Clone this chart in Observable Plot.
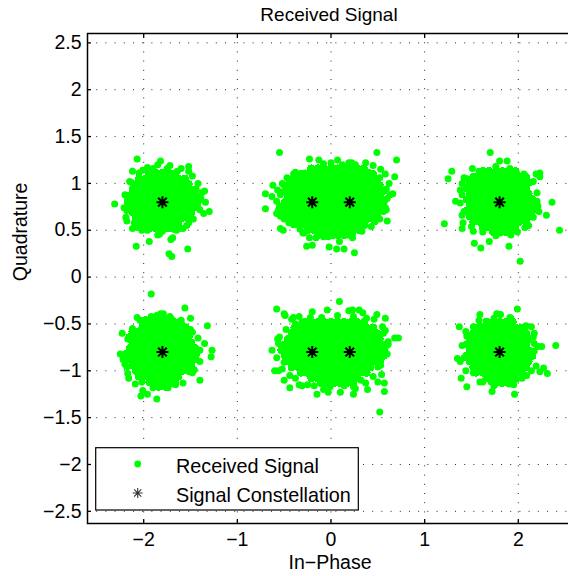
<!DOCTYPE html>
<html>
<head>
<meta charset="utf-8">
<script src="https://cdn.jsdelivr.net/npm/d3@7"></script>
<script src="https://cdn.jsdelivr.net/npm/@observablehq/plot@0.6"></script>
<style>
  html, body { margin: 0; padding: 0; overflow: hidden; background: white; }
  #chart { width: 568px; height: 576px; overflow: hidden; position: relative; }
</style>
</head>
<body>
<div id="chart"></div>
<script>
// ---- axes ----
const xTicks = [-2, -1, 0, 1, 2];
const yTicks = [-2.5, -2, -1.5, -1, -0.5, 0, 0.5, 1, 1.5, 2, 2.5];

// ---- signal constellation ----
const constX = [-1.8, -0.2, 0.2, 1.8, -1.8, -0.2, 0.2, 1.8];
const constY = [0.8, 0.8, 0.8, 0.8, -0.8, -0.8, -0.8, -0.8];

// ---- received signal: cluster reference points ----
const clusterX = [-1.8, 0, 1.8, -1.8, 0, 1.8];
const clusterY = [0.8, 0.8, 0.8, -0.8, -0.8, -0.8];

// dense (solid) part of each cloud, read as rows: [dy, [dx...]] in hundredths
const coreNW = [
  [31, [-14, -7, 0, 7, 14]],
  [25, [-25, -18, -11, -4, 3, 10, 17, 24]],
  [19, [-28, -21, -14, -7, 0, 7, 14, 21, 28]],
  [13, [-32, -25, -18, -11, -4, 3, 10, 17, 24, 31]],
  [7, [-35, -28, -21, -14, -7, 0, 7, 14, 21, 28, 35]],
  [1, [-37, -32, -25, -18, -11, -4, 3, 10, 17, 24, 31, 38]],
  [-5, [-35, -28, -21, -14, -7, 0, 7, 14, 21, 28, 35]],
  [-11, [-32, -25, -18, -11, -4, 3, 10, 17, 24, 31]],
  [-17, [-28, -21, -14, -7, 0, 7, 14, 21, 28]],
  [-23, [-25, -18, -11, -4, 3, 10, 17]],
  [-28, [-14, -7, 0, 7]]
];
const coreNM = [
  [36, [-21, -14, -7, 0, 7, 14, 21, 28, 35]],
  [30, [-32, -25, -18, -11, -4, 3, 10, 17, 24, 31, 38, 45]],
  [24, [-42, -35, -28, -21, -14, -7, 0, 7, 14, 21, 28, 35, 42, 49]],
  [18, [-46, -39, -32, -25, -18, -11, -4, 3, 10, 17, 24, 31, 38, 45, 52]],
  [12, [-49, -42, -35, -28, -21, -14, -7, 0, 7, 14, 21, 28, 35, 42, 49, 56]],
  [6, [-46, -39, -32, -25, -18, -11, -4, 3, 10, 17, 24, 31, 38, 45, 52]],
  [0, [-49, -42, -35, -28, -21, -14, -7, 0, 7, 14, 21, 28, 35, 42, 49, 56]],
  [-6, [-46, -39, -32, -25, -18, -11, -4, 3, 10, 17, 24, 31, 38, 45, 52]],
  [-12, [-49, -42, -35, -28, -21, -14, -7, 0, 7, 14, 21, 28, 35, 42, 49]],
  [-18, [-46, -39, -32, -25, -18, -11, -4, 3, 10, 17, 24, 31, 38, 45]],
  [-24, [-35, -28, -21, -14, -7, 0, 7, 14, 21, 28, 35]],
  [-30, [-25, -18, -11, -4, 3, 10, 17, 24, 31]],
  [-35, [-14, -7, 0, 7, 14, 21]]
];
const coreNE = [
  [33, [-18, -11, -4, 3, 10, 17]],
  [27, [-28, -21, -14, -7, 0, 7, 14, 21, 28]],
  [21, [-32, -25, -18, -11, -4, 3, 10, 17, 24, 31]],
  [15, [-35, -28, -21, -14, -7, 0, 7, 14, 21, 28]],
  [9, [-32, -25, -18, -11, -4, 3, 10, 17, 24, 31]],
  [3, [-35, -28, -21, -14, -7, 0, 7, 14, 21, 28, 35]],
  [-3, [-32, -25, -18, -11, -4, 3, 10, 17, 24, 31]],
  [-9, [-35, -28, -21, -14, -7, 0, 7, 14, 21, 28, 35]],
  [-15, [-32, -25, -18, -11, -4, 3, 10, 17, 24, 31]],
  [-21, [-28, -21, -14, -7, 0, 7, 14, 21, 28]],
  [-27, [-18, -11, -4, 3, 10, 17]],
  [-32, [-7, 0, 7]]
];
const coreSW = [
  [34, [-18, -11, -4, 3, 10]],
  [28, [-21, -14, -7, 0, 7, 14, 21]],
  [22, [-32, -25, -18, -11, -4, 3, 10, 17, 24]],
  [16, [-35, -28, -21, -14, -7, 0, 7, 14, 21, 28]],
  [10, [-32, -25, -18, -11, -4, 3, 10, 17, 24, 31]],
  [4, [-35, -28, -21, -14, -7, 0, 7, 14, 21, 28, 35]],
  [-2, [-39, -32, -25, -18, -11, -4, 3, 10, 17, 24, 31, 36]],
  [-8, [-35, -28, -21, -14, -7, 0, 7, 14, 21, 28, 35]],
  [-14, [-32, -25, -18, -11, -4, 3, 10, 17, 24, 31]],
  [-20, [-28, -21, -14, -7, 0, 7, 14, 21, 28]],
  [-26, [-25, -18, -11, -4, 3, 10, 17]],
  [-32, [-14, -7, 0, 7, 14]],
  [-37, [-4, 3]]
];
const coreSM = [
  [32, [-28, -21, -14, -7, 0, 7, 14, 21, 28, 35]],
  [26, [-39, -32, -25, -18, -11, -4, 3, 10, 17, 24, 31, 38, 45]],
  [20, [-42, -35, -28, -21, -14, -7, 0, 7, 14, 21, 28, 35, 42, 49]],
  [14, [-46, -39, -32, -25, -18, -11, -4, 3, 10, 17, 24, 31, 38, 45, 52]],
  [8, [-49, -42, -35, -28, -21, -14, -7, 0, 7, 14, 21, 28, 35, 42, 49, 56]],
  [2, [-53, -46, -39, -32, -25, -18, -11, -4, 3, 10, 17, 24, 31, 38, 45, 52, 57]],
  [-4, [-49, -42, -35, -28, -21, -14, -7, 0, 7, 14, 21, 28, 35, 42, 49, 56]],
  [-10, [-46, -39, -32, -25, -18, -11, -4, 3, 10, 17, 24, 31, 38, 45, 52]],
  [-16, [-42, -35, -28, -21, -14, -7, 0, 7, 14, 21, 28, 35, 42]],
  [-22, [-32, -25, -18, -11, -4, 3, 10, 17, 24, 31, 38]],
  [-28, [-21, -14, -7, 0, 7, 14, 21, 28]],
  [-33, [-11, -4, 3, 10, 17, 24]]
];
const coreSE = [
  [32, [-14, -7, 0, 7, 14]],
  [26, [-25, -18, -11, -4, 3, 10, 17, 24]],
  [20, [-28, -21, -14, -7, 0, 7, 14, 21, 28]],
  [14, [-32, -25, -18, -11, -4, 3, 10, 17, 24, 31]],
  [8, [-35, -28, -21, -14, -7, 0, 7, 14, 21, 28]],
  [2, [-32, -25, -18, -11, -4, 3, 10, 17, 24, 31]],
  [-4, [-35, -28, -21, -14, -7, 0, 7, 14, 21, 28, 35]],
  [-10, [-32, -25, -18, -11, -4, 3, 10, 17, 24, 31]],
  [-16, [-28, -21, -14, -7, 0, 7, 14, 21, 28]],
  [-22, [-25, -18, -11, -4, 3, 10, 17, 24]],
  [-28, [-14, -7, 0, 7, 14]],
  [-33, [-4, 3]]
];

// scattered points around each cloud: [dx, dy] in hundredths
const scatterNW = [[-27,46],[-32,33],[-51,-2],[-38,-9],[-32,-28],[-28,-47],[-14,-42],[-5,-35],[9,-40],[11,-38],[7,-55],[10,-58],[27,-50],[22,-28],[46,0],[50,-10],[44,-12],[45,12],[42,10],[32,28],[28,38],[28,33],[-2,44],[8,39],[-5,40],[-21,34],[-37,3],[-39,-16],[-22,-30],[38,-6],[33,-18],[15,-30],[12,-29],[-35,22],[-38,-20],[38,20],[20,36],[-16,37],[-27,-27],[26,-25],[0,-31],[5,36],
  [-40,8],[-41,-6],[-33,21],[-25,31],[-10,36],[16,33],[36,14],[41,4],[40,-8],[28,-22],[18,-28],[-3,-34],[-16,-30],[-30,-22]];
const scatterNM = [[-55,53],[49,53],[70,45],[58,30],[68,27],[62,20],[66,9],[63,8],[57,1],[58,-6],[56,-10],[50,-15],[60,-20],[47,-21],[36,-25],[33,-31],[23,-34],[23,-38],[25,-54],[14,-50],[6,-50],[9,-42],[-2,-48],[-3,-37],[-8,-37],[-20,-46],[-26,-47],[-23,-38],[-29,-33],[-33,-29],[-40,-24],[-51,-30],[-54,-28],[-54,-15],[-58,-12],[-70,-7],[-56,-8],[-52,-6],[-70,9],[-58,1],[-63,6],[-57,13],[-62,18],[-50,18],[-40,30],[-23,46],[-13,45],[0,42],[7,45],[19,42],[22,42],[37,42],[45,39],[40,32],[-28,31],[53,35],[-45,-22],[12,40],
  [-52,20],[-54,8],[-55,-4],[-50,-18],[-30,-33],[-16,-38],[2,-36],[18,-35],[43,-26],[52,-18],[59,-8],[60,4],[59,14],[52,26],[26,40],[-8,41],[-38,32],[-47,26]];
const scatterNE = [[-10,53],[0,44],[8,44],[-29,36],[-51,33],[-55,25],[-35,25],[-29,26],[-40,20],[-42,13],[-47,1],[-42,-1],[-40,-14],[-39,-22],[-59,-23],[-40,-28],[-28,-31],[-27,-44],[-20,-49],[-11,-42],[1,-33],[-6,-32],[10,-47],[12,-35],[19,-32],[22,-63],[27,-27],[31,-25],[50,-14],[42,-10],[38,-8],[56,0],[40,1],[37,-2],[43,27],[39,30],[43,31],[32,21],[22,23],[18,32],[11,36],[-17,28],[64,-30],
  [-38,26],[-40,8],[-38,-10],[-30,-26],[-18,-32],[-4,-36],[14,-30],[36,-16],[41,-4],[40,10],[36,22],[26,30],[-4,38],[-22,33]];
const scatterSW = [[-12,62],[24,47],[30,36],[48,28],[-27,37],[-6,39],[-2,41],[1,41],[5,35],[-32,25],[-43,20],[-45,-2],[-40,-13],[-37,-23],[-29,-34],[-21,-41],[-23,-47],[-16,-45],[-6,-50],[6,-38],[14,-35],[40,-30],[34,-19],[36,-4],[45,9],[53,2],[52,-5],[32,21],[25,27],[17,32],[-42,-8],[38,15],[-36,-28],[22,-33],
  [-24,34],[-37,14],[-40,-4],[-38,-16],[-22,-32],[-10,-38],[8,-34],[32,-22],[40,-10],[40,2],[30,24],[20,34],[8,38],[-12,38]];
const scatterSM = [[-58,46],[9,54],[-49,39],[-50,41],[-42,35],[-40,37],[-34,38],[-31,32],[-20,43],[-22,37],[-4,45],[7,39],[19,44],[23,45],[30,45],[34,42],[49,40],[46,35],[58,36],[55,27],[58,23],[68,15],[72,15],[61,11],[58,5],[52,-5],[50,-16],[54,-24],[50,-32],[57,-33],[57,-42],[39,-40],[37,-33],[24,-37],[26,-39],[24,-45],[10,-43],[-3,-43],[-1,-37],[-8,-40],[-15,-45],[-25,-35],[-31,-36],[-34,-35],[-44,-38],[-50,-30],[-38,-28],[-60,-20],[-56,-20],[-50,-11],[-63,2],[-56,9],[-53,6],[-57,14],[52,-64],
  [-55,16],[-58,-6],[-52,-18],[-44,-25],[-18,-36],[-2,-33],[14,-36],[32,-30],[45,-26],[53,-14],[60,-2],[61,8],[56,20],[38,36],[24,38],[-10,37],[-38,30],[-48,24]];
const scatterSE = [[19,46],[-21,40],[-3,41],[1,40],[11,37],[-43,27],[-28,27],[-21,28],[-9,27],[27,25],[34,27],[37,20],[-35,17],[-40,7],[37,9],[45,6],[60,7],[37,1],[30,-2],[32,-5],[-45,-7],[-42,-10],[39,-15],[43,-21],[47,-17],[51,-23],[29,-25],[19,-22],[18,-29],[15,-35],[16,-45],[-21,-32],[-9,-32],[-8,-42],[-35,-37],[-41,-28],[-28,-22],[4,-30],[8,-31],
  [-22,34],[-36,22],[-38,-6],[-36,-20],[-18,-32],[-6,-36],[10,-34],[24,-28],[34,-20],[41,6],[36,16],[28,28],[12,36],[-6,36]];

// ---- build tables ----
const cores = [coreNW, coreNM, coreNE, coreSW, coreSM, coreSE];
const scatters = [scatterNW, scatterNM, scatterNE, scatterSW, scatterSM, scatterSE];
const receivedCore = [];
const receivedScatter = [];
cores.forEach((core, i) => {
  for (const [dy, dxs] of core) for (const dx of dxs)
    receivedCore.push({x: clusterX[i] + dx / 100, y: clusterY[i] + dy / 100});
  for (const [dx, dy] of scatters[i])
    receivedScatter.push({x: clusterX[i] + dx / 100, y: clusterY[i] + dy / 100});
});
const constellation = constX.map((x, i) => ({x, y: constY[i]}));

// MATLAB-style '*' marker
const matlabStar = {
  draw(ctx, size) {
    const r = Math.sqrt(size / Math.PI);
    const d = r * 0.72;
    ctx.moveTo(-r, 0); ctx.lineTo(r, 0);
    ctx.moveTo(0, -r); ctx.lineTo(0, r);
    ctx.moveTo(-d, -d); ctx.lineTo(d, d);
    ctx.moveTo(-d, d); ctx.lineTo(d, -d);
  }
};

const fmt = d => (d < 0 ? "\u2212" : "") + String(Math.abs(d));
const gridStyle = {stroke: "#000", strokeOpacity: 0.85, strokeWidth: 1, strokeDasharray: "1,8.2"};

const svg = Plot.plot({
  width: 574,
  height: 576,
  marginLeft: 87,
  marginRight: 0,
  marginTop: 33,
  marginBottom: 53,
  x: {domain: [-2.6, 2.6]},
  y: {domain: [-2.63, 2.6]},
  style: {
    fontFamily: "'Liberation Sans', Arial, Helvetica, sans-serif",
    fontSize: "19.5px",
    background: "white",
    color: "black",
    maxWidth: "none",
    overflow: "hidden"
  },
  marks: [
    Plot.gridX(xTicks, gridStyle),
    Plot.gridY(yTicks, gridStyle),
    Plot.dot(receivedCore, {x: "x", y: "y", r: 4, fill: "#00ff00", shapeRendering: "crispEdges"}),
    Plot.dot(receivedScatter, {x: "x", y: "y", r: 3.5, fill: "#00ff00"}),
    Plot.dot(constellation, {x: "x", y: "y", r: 6, symbol: matlabStar, stroke: "black", strokeWidth: 2, fill: "none"}),
    Plot.frame({stroke: "black", strokeWidth: 1.5}),
    Plot.axisX({ticks: xTicks, anchor: "bottom", tickSize: -4, tickPadding: 13, tickFormat: fmt, label: null, strokeWidth: 1.3}),
    Plot.axisX({ticks: xTicks, anchor: "top", tickSize: -4, tickFormat: () => "", label: null, strokeWidth: 1.3}),
    Plot.axisY({ticks: yTicks, anchor: "left", tickSize: -4, tickPadding: 10, tickFormat: fmt, label: null, strokeWidth: 1.3}),
    Plot.text(["Received Signal"], {frameAnchor: "top", text: d => d, lineAnchor: "bottom", dy: -12.3, dx: -2, fontSize: 19}),
    Plot.text(["In\u2212Phase"], {frameAnchor: "bottom", text: d => d, lineAnchor: "bottom", dy: 45.3, dx: -1, fontSize: 19.5}),
    Plot.text(["Quadrature"], {frameAnchor: "left", text: d => d, rotate: -90, lineAnchor: "bottom", dx: -60.7, dy: 2.7, fontSize: 19.5})
  ]
});

// ---- legend ----
const g = d3.select(svg).append("g").attr("class", "legend").attr("text-anchor", "start");
g.append("rect")
  .attr("x", 95.7).attr("y", 447.7).attr("width", 262.6).attr("height", 62.3)
  .attr("fill", "white").attr("stroke", "black").attr("stroke-width", 1.2);
g.append("circle").attr("cx", 137.7).attr("cy", 464).attr("r", 3.4).attr("fill", "#00ff00");
const sr = 5, sd = 3.6;
g.append("path")
  .attr("d", `M${137.7 - sr},493H${137.7 + sr}M137.7,${493 - sr}V${493 + sr}M${137.7 - sd},${493 - sd}L${137.7 + sd},${493 + sd}M${137.7 - sd},${493 + sd}L${137.7 + sd},${493 - sd}`)
  .attr("stroke", "#333").attr("stroke-width", 1.1).attr("fill", "none");
g.append("text").attr("x", 176).attr("y", 472.7).attr("font-size", 19.8).attr("fill", "black").text("Received Signal");
g.append("text").attr("x", 176).attr("y", 501.7).attr("font-size", 19.8).attr("fill", "black").text("Signal Constellation");

document.getElementById("chart").appendChild(svg);
</script>
</body>
</html>
